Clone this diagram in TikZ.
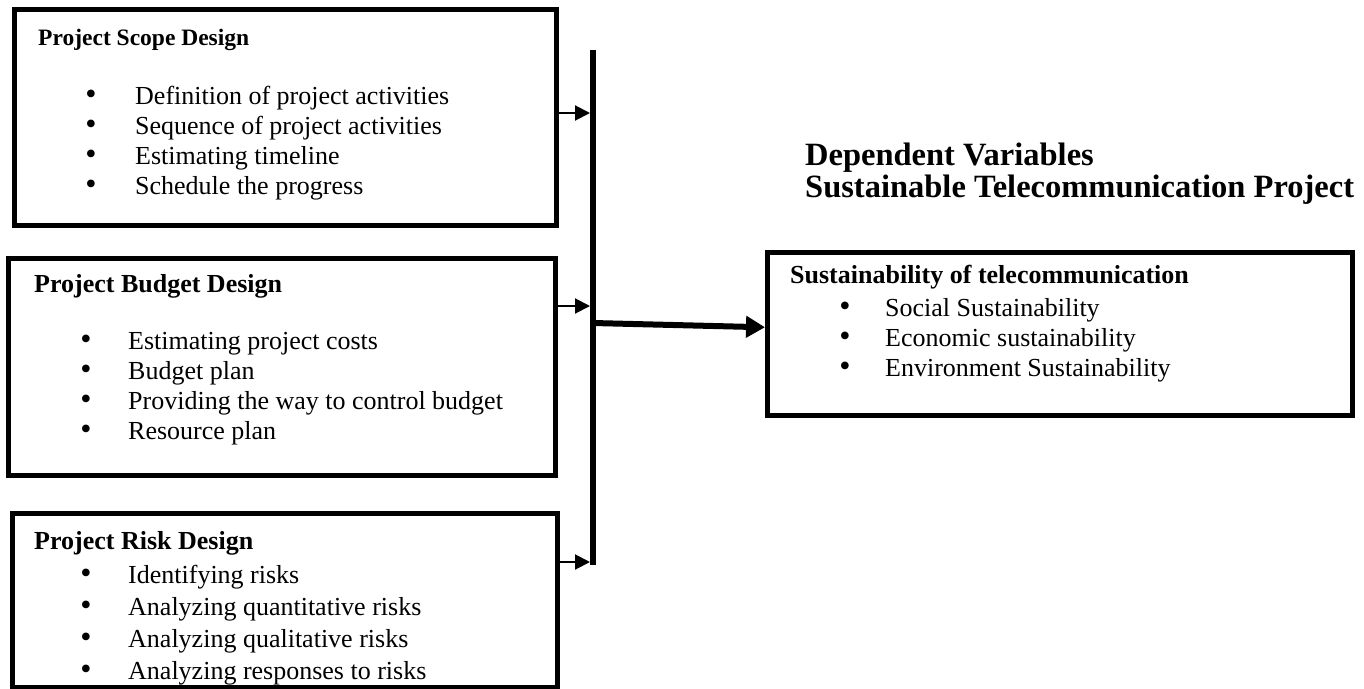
\documentclass[tikz,border=0pt]{standalone}
\usepackage{fontspec}
\setmainfont{Liberation Serif}
\usetikzlibrary{arrows.meta,calc}
\begin{document}
\begin{tikzpicture}[x=1pt,y=-1pt,
  frame/.style={draw, line width=5pt, inner sep=0pt, anchor=north west},
  body/.style={anchor=base west, inner sep=0pt, font=\fontsize{26pt}{30pt}\selectfont},
  bul/.style={anchor=base, inner sep=0pt, font=\fontsize{32pt}{30pt}\selectfont},
  ttl/.style={anchor=base west, inner sep=0pt, font=\fontsize{26pt}{30pt}\selectfont\bfseries},
  head/.style={anchor=base west, inner sep=0pt, font=\fontsize{32.5pt}{36pt}\selectfont\bfseries},
  sarrow/.style={line width=2pt, -{Triangle[length=15pt,width=15pt]}},
  barline/.style={line width=6pt},
  barrow/.style={line width=6pt, -{Triangle[length=19pt,width=21pt]}}]
\useasboundingbox (0,0) rectangle (1364,688);

% boxes
\node[frame, minimum width=542pt, minimum height=216pt] (b1) at (12,7) {};
\node[frame, minimum width=547pt, minimum height=217pt] (b2) at (6,256) {};
\node[frame, minimum width=545pt, minimum height=174pt] (b3) at (10,511) {};
\node[frame, minimum width=585pt, minimum height=163pt] (rb) at (765,250) {};

% box 1 text
\node[ttl, font=\fontsize{23.5pt}{28pt}\selectfont\bfseries] (t1) at (38,45) {Project Scope Design};
\node[bul] (d11) at (91,104) {•};
\node[body] (l11) at (135,104) {Definition of project activities};
\node[bul] (d12) at (91,134) {•};
\node[body] (l12) at (135,134) {Sequence of project activities};
\node[bul] (d13) at (91,164) {•};
\node[body] (l13) at (135,164) {Estimating timeline};
\node[bul] (d14) at (91,194) {•};
\node[body] (l14) at (135,194) {Schedule the progress};

% box 2 text
\node[ttl] (t2) at (34,292) {Project Budget Design};
\node[bul] (d21) at (86,349) {•};
\node[body] (l21) at (128,349) {Estimating project costs};
\node[bul] (d22) at (86,379) {•};
\node[body] (l22) at (128,379) {Budget plan};
\node[bul] (d23) at (86,409) {•};
\node[body] (l23) at (128,409) {Providing the way to control budget};
\node[bul] (d24) at (86,439) {•};
\node[body] (l24) at (128,439) {Resource plan};

% box 3 text
\node[ttl] (t3) at (34,549) {Project Risk Design};
\node[bul] (d31) at (86,583) {•};
\node[body] (l31) at (128,583) {Identifying risks};
\node[bul] (d32) at (86,615) {•};
\node[body] (l32) at (128,615) {Analyzing quantitative risks};
\node[bul] (d33) at (86,647) {•};
\node[body] (l33) at (128,647) {Analyzing qualitative risks};
\node[bul] (d34) at (86,679) {•};
\node[body] (l34) at (128,679) {Analyzing responses to risks};

% right heading
\node[head] (h1) at (805,165) {Dependent Variables};
\node[head] (h2) at (805,197) {Sustainable Telecommunication Project};

% right box text
\node[ttl] (t4) at (790,283) {Sustainability of telecommunication};
\node[bul] (d41) at (845,316) {•};
\node[body] (l41) at (885,316) {Social Sustainability};
\node[bul] (d42) at (845,346) {•};
\node[body] (l42) at (885,346) {Economic sustainability};
\node[bul] (d43) at (845,376) {•};
\node[body] (l43) at (885,376) {Environment Sustainability};

% redraw box 3 border over the last line (descenders hidden as in the reference)
\draw[line width=5pt] (b3.south west) -- (b3.south east);

% bar and connectors
\coordinate (bartop) at (593,50);
\coordinate (barbot) at (593,565);
\draw[barline] (bartop) -- (barbot);
\coordinate (a1) at (590,113);
\coordinate (a2) at (590,306);
\coordinate (a3) at (590,562);
\draw[sarrow] (b1.east |- a1) -- (a1);
\draw[sarrow] (b2.east |- a2) -- (a2);
\draw[sarrow] (b3.east |- a3) -- (a3);
\coordinate (j) at (593,323);
\draw[barrow] (j) -- ($(rb.north west)!0.46!(rb.south west)$);
\end{tikzpicture}
\end{document}
